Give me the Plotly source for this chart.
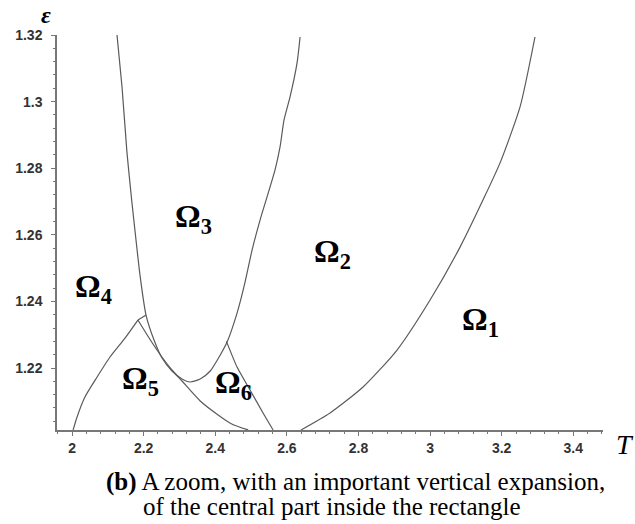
import plotly.graph_objects as go

# ---- data (T, epsilon) ----
curve_45_T = [2.003, 2.014, 2.036, 2.070, 2.106, 2.148, 2.184]
curve_45_E = [1.2014, 1.2053, 1.2113, 1.2173, 1.2233, 1.2290, 1.2344]

link_T = [2.184, 2.207]
link_E = [1.2344, 1.2359]

u_T = [2.1256, 2.1396, 2.1535, 2.1674, 2.1787, 2.1898, 2.2066, 2.2290, 2.2513,
       2.2792, 2.3071, 2.3300, 2.3580, 2.3860, 2.4140, 2.4330, 2.4609, 2.4833,
       2.5028, 2.5251, 2.5447, 2.5670, 2.5810, 2.5921, 2.6089, 2.6285, 2.6369]
u_E = [1.3200, 1.3044, 1.2846, 1.2696, 1.2584, 1.2479, 1.2359, 1.2284, 1.2230,
       1.2191, 1.2167, 1.2158, 1.2167, 1.2191, 1.2239, 1.2278, 1.2365, 1.2458,
       1.2554, 1.2644, 1.2714, 1.2795, 1.2864, 1.2945, 1.3014, 1.3116, 1.3194]

curve_56_T = [2.184, 2.217, 2.251, 2.279, 2.307, 2.358, 2.408, 2.446, 2.492]
curve_56_E = [1.2344, 1.2287, 1.2233, 1.2194, 1.2161, 1.2101, 1.2059, 1.2032, 1.2014]

curve_62_T = [2.4312, 2.4609, 2.4972, 2.5335, 2.5615]
curve_62_E = [1.2280, 1.2203, 1.2134, 1.2065, 1.2014]

curve_12_T = [2.6396, 2.7206, 2.8128, 2.9078, 3.0000, 3.0837, 3.1480, 3.1955, 3.2513, 3.2930]
curve_12_E = [1.2014, 1.2065, 1.2143, 1.2254, 1.2404, 1.2563, 1.2705, 1.2816, 1.2984, 1.3194]

x_ticks = [2, 2.2, 2.4, 2.6, 2.8, 3, 3.2, 3.4]
x_labels = ["2", "2.2", "2.4", "2.6", "2.8", "3", "3.2", "3.4"]
y_ticks = [1.22, 1.24, 1.26, 1.28, 1.30, 1.32]
y_labels = ["1.22", "1.24", "1.26", "1.28", "1.3", "1.32"]

regions = ["1", "2", "3", "4", "5", "6"]
region_T = [3.0838, 2.670, 2.282, 2.003, 2.134, 2.394]
region_E = [1.2341, 1.2545, 1.2650, 1.2440, 1.2161, 1.2149]

fig = go.Figure()
line_style = dict(color="#5a5a5a", width=1.2)
for xs, ys in [(curve_45_T, curve_45_E), (link_T, link_E), (u_T, u_E),
               (curve_56_T, curve_56_E), (curve_62_T, curve_62_E),
               (curve_12_T, curve_12_E)]:
    fig.add_trace(go.Scatter(x=xs, y=ys, mode="lines",
                             line=dict(shape="spline", smoothing=0.6, **line_style),
                             showlegend=False, hoverinfo="skip"))

for name, tx, ey in zip(regions, region_T, region_E):
    fig.add_annotation(x=tx, y=ey, xref="x", yref="y", xanchor="left", yanchor="middle",
                       text="<b>Ω</b><sub><b>%s</b></sub>" % name, showarrow=False,
                       font=dict(family="Liberation Serif", size=32, color="black"))

axis_common = dict(showline=True, linecolor="#777", linewidth=1.5, showgrid=False, zeroline=False,
                   ticks="outside", ticklen=4, tickcolor="#777", tickwidth=1,
                   tickfont=dict(family="Liberation Sans", size=14, color="#333", weight="bold"))
fig.update_xaxes(range=[1.958, 3.483], tickvals=x_ticks, ticktext=x_labels,
                 minor=dict(dtick=0.04, tick0=2, ticks="outside", ticklen=2, tickcolor="#777"),
                 **axis_common)
fig.update_yaxes(range=[1.20138, 1.32], tickvals=y_ticks, ticktext=y_labels,
                 ticklabelstandoff=6,
                 minor=dict(dtick=0.004, tick0=1.2, ticks="outside", ticklen=2, tickcolor="#777"),
                 **axis_common)

fig.add_annotation(xref="paper", yref="paper", x=-0.0201, y=1.0506, xanchor="center", yanchor="middle",
                   text="<b><i>ε</i></b>",
                   showarrow=False, font=dict(family="Liberation Serif", size=24, color="black"))
fig.add_annotation(xref="paper", yref="paper", x=1.0403, y=-0.036, xanchor="center", yanchor="middle",
                   text="<i>T</i>",
                   showarrow=False, font=dict(family="Liberation Serif", size=28, color="black"))
fig.add_annotation(xref="paper", yref="paper", x=0.0861, y=-0.1316, xanchor="left", yanchor="middle",
                   text="<b>(b)</b> A zoom, with an important vertical expansion,",
                   showarrow=False, font=dict(family="Liberation Serif", size=25, color="black"))
fig.add_annotation(xref="paper", yref="paper", x=0.1538, y=-0.1935, xanchor="left", yanchor="middle",
                   text="of the central part inside the rectangle",
                   showarrow=False, font=dict(family="Liberation Serif", size=25, color="black"))

fig.update_layout(width=635, height=524, margin=dict(l=57, r=32, t=35, b=94),
                  plot_bgcolor="white", paper_bgcolor="white")
fig.write_html("out.html")
